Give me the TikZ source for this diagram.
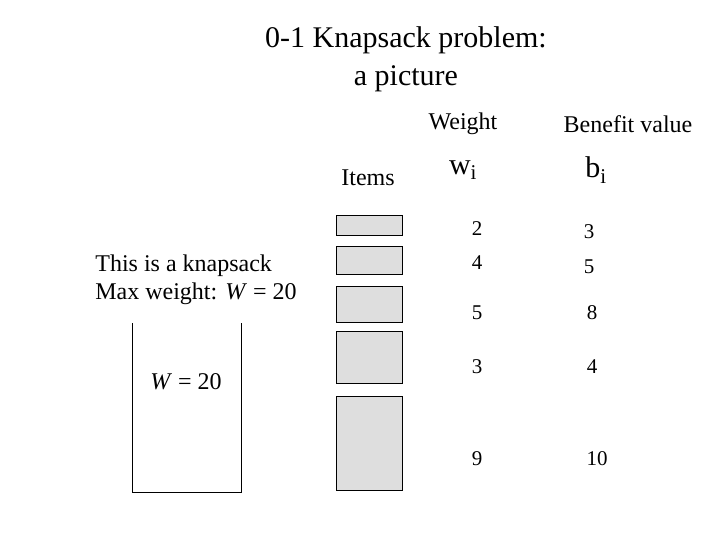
\documentclass[tikz,border=0pt]{standalone}
\usepackage{fontspec}
\setmainfont{Liberation Serif}
\begin{document}
\begin{tikzpicture}[x=1pt,y=-1pt,
  item/.style={draw=black,fill=black!13,line width=0.8pt},
  lab/.style={inner sep=0pt,font=\fontsize{24}{28}\selectfont},
  num/.style={inner sep=0pt,font=\fontsize{21}{24}\selectfont}]
\useasboundingbox (0,0) rectangle (720,540);
\node[inner sep=0pt,align=center,font=\fontsize{30}{38}\selectfont] (title) at (406,59) {0-1 Knapsack problem:\\a picture};
\node[lab] (items) at (368,178) {Items};
\node[lab] (weight) at (463,124) {Weight};
\node[lab] (benefit) at (628,124) {Benefit value};
\node[inner sep=0pt,font=\fontsize{30}{34}\selectfont] (wi) at (463,170) {w\textsubscript{i}};
\node[inner sep=0pt,font=\fontsize{30}{34}\selectfont] (bi) at (596,170) {b\textsubscript{i}};
\node[item,minimum width=66pt,minimum height=20pt] (i1) at (369,225) {};
\node[item,minimum width=66pt,minimum height=28pt] (i2) at (369,260) {};
\node[item,minimum width=66pt,minimum height=36pt] (i3) at (369,304) {};
\node[item,minimum width=66pt,minimum height=52pt] (i4) at (369,357) {};
\node[item,minimum width=66pt,minimum height=94pt] (i5) at (369,443) {};
\node[num] (w1) at (477,229) {2};
\node[num] (w2) at (477,263) {4};
\node[num] (w3) at (477,313) {5};
\node[num] (w4) at (477,367) {3};
\node[num] (w5) at (477,459) {9};
\node[num] (b1) at (589,232) {3};
\node[num] (b2) at (589,267) {5};
\node[num] (b3) at (592,313) {8};
\node[num] (b4) at (592,367) {4};
\node[num] (b5) at (597,459) {10};
\node[lab,align=left] (desc) at (196,280) {This is a knapsack\\Max weight: \textit{W} = 20};
\coordinate (k1) at (132,323);
\coordinate (k2) at (132,492);
\coordinate (k3) at (241,492);
\coordinate (k4) at (241,323);
\draw[line width=0.8pt] (k1) -- (k2) -- (k3) -- (k4);
\node[lab] (cap) at (186,382) {\textit{W} = 20};
\end{tikzpicture}
\end{document}
